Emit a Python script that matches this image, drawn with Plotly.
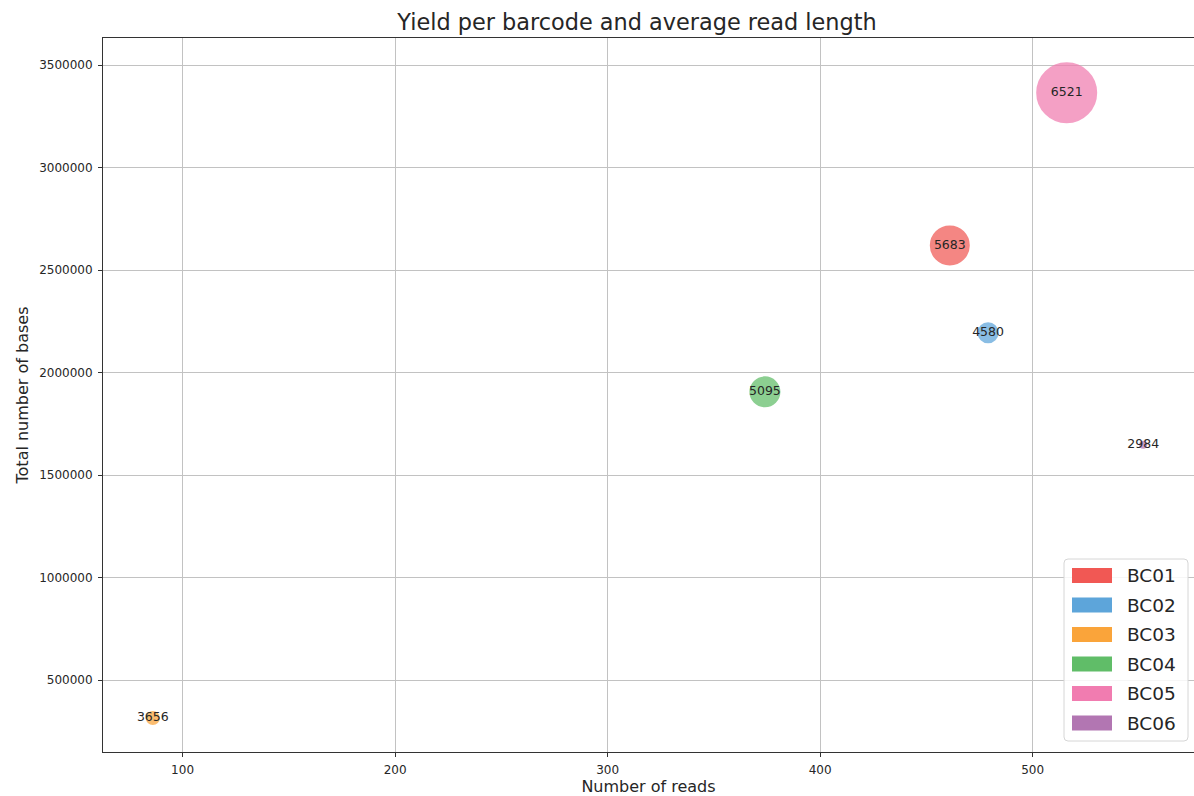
import plotly.graph_objects as go

# Per-barcode sequencing summary
barcodes = ["BC01", "BC02", "BC03", "BC04", "BC05", "BC06"]
read_counts = [461, 479, 86, 374, 516, 552]
total_bases = [2619863, 2193820, 314416, 1905530, 3364836, 1647168]
bubble_diameter = [40, 21, 14, 31, 61, 8]
colors = ["#F15854", "#5DA5DA", "#FAA43A", "#60BD68", "#F17CB0", "#B276B2"]

x_ticks = [100, 200, 300, 400, 500]
y_ticks = [500000, 1000000, 1500000, 2000000, 2500000, 3000000, 3500000]

avg_length = [round(b / r) for b, r in zip(total_bases, read_counts)]

FONT = "DejaVu Sans"
TEXT = "#262626"

W, H = 1194, 796
ML, MR, MT, MB = 103, 0, 38, 44
PW, PH = W - ML - MR, H - MT - MB


def px(x):
    return (x - ML) / PW


def py(y):
    return (H - MB - y) / PH


fig = go.Figure()

for name, r, b, d, c, L in zip(barcodes, read_counts, total_bases, bubble_diameter, colors, avg_length):
    fig.add_trace(go.Scatter(
        x=[r], y=[b], mode="markers+text", name=name,
        text=[str(L)], textposition="middle center",
        textfont=dict(family=FONT, size=12.5, color=TEXT),
        marker=dict(size=d - 2, color=c, opacity=0.72,
                    line=dict(color=c, width=2)),
        showlegend=False,
    ))

# Legend box with wide colour patches
shapes = []
annotations = []
bx0, bx1, by0, by1 = 1064, 1188, 559, 741
rad = 4
path = (
    f"M {px(bx0 + rad)},{py(by0)} L {px(bx1 - rad)},{py(by0)} "
    f"Q {px(bx1)},{py(by0)} {px(bx1)},{py(by0 + rad)} "
    f"L {px(bx1)},{py(by1 - rad)} Q {px(bx1)},{py(by1)} {px(bx1 - rad)},{py(by1)} "
    f"L {px(bx0 + rad)},{py(by1)} Q {px(bx0)},{py(by1)} {px(bx0)},{py(by1 - rad)} "
    f"L {px(bx0)},{py(by0 + rad)} Q {px(bx0)},{py(by0)} {px(bx0 + rad)},{py(by0)} Z"
)
shapes.append(dict(type="path", xref="paper", yref="paper", path=path,
                   fillcolor="rgba(255,255,255,0.85)",
                   line=dict(color="#d6d6d6", width=1), layer="above"))
for i, (name, c) in enumerate(zip(barcodes, colors)):
    cy = 575.5 + i * 29.5
    shapes.append(dict(type="rect", xref="paper", yref="paper",
                       x0=px(1072), x1=px(1112), y0=py(cy - 7.5), y1=py(cy + 7.5),
                       fillcolor=c, line=dict(width=0), layer="above"))
    annotations.append(dict(xref="paper", yref="paper", x=px(1125), y=py(cy),
                            xanchor="left", yanchor="middle", text=name,
                            showarrow=False,
                            font=dict(family=FONT, size=18.5, color=TEXT)))

fig.update_layout(
    width=W, height=H,
    margin=dict(l=ML, r=MR, t=MT, b=MB),
    paper_bgcolor="white", plot_bgcolor="white",
    title=dict(text="Yield per barcode and average read length",
               x=px(637), xref="paper", xanchor="center",
               y=(H - 22) / H, yref="container", yanchor="middle",
               font=dict(family=FONT, size=22.4, color=TEXT)),
    shapes=shapes, annotations=annotations,
    showlegend=False,
)

axis_common = dict(
    showgrid=True, gridcolor="#c2c2c2", gridwidth=1,
    showline=True, linecolor="#333333", linewidth=1, mirror=True,
    ticks="outside", ticklen=4, tickcolor="#333333", tickwidth=1,
    ticklabelstandoff=3,
    tickfont=dict(family=FONT, size=12, color=TEXT),
    zeroline=False, tickformat="d",
)

fig.update_xaxes(
    range=[62.56, 575.9], tickmode="array", tickvals=x_ticks,
    title=dict(text="Number of reads", standoff=5,
               font=dict(family=FONT, size=16, color=TEXT)),
    **axis_common,
)
fig.update_yaxes(
    range=[148780, 3631707], tickmode="array", tickvals=y_ticks,
    title=dict(text="Total number of bases", standoff=6,
               font=dict(family=FONT, size=16, color=TEXT)),
    **axis_common,
)

fig.write_html("out.html")
